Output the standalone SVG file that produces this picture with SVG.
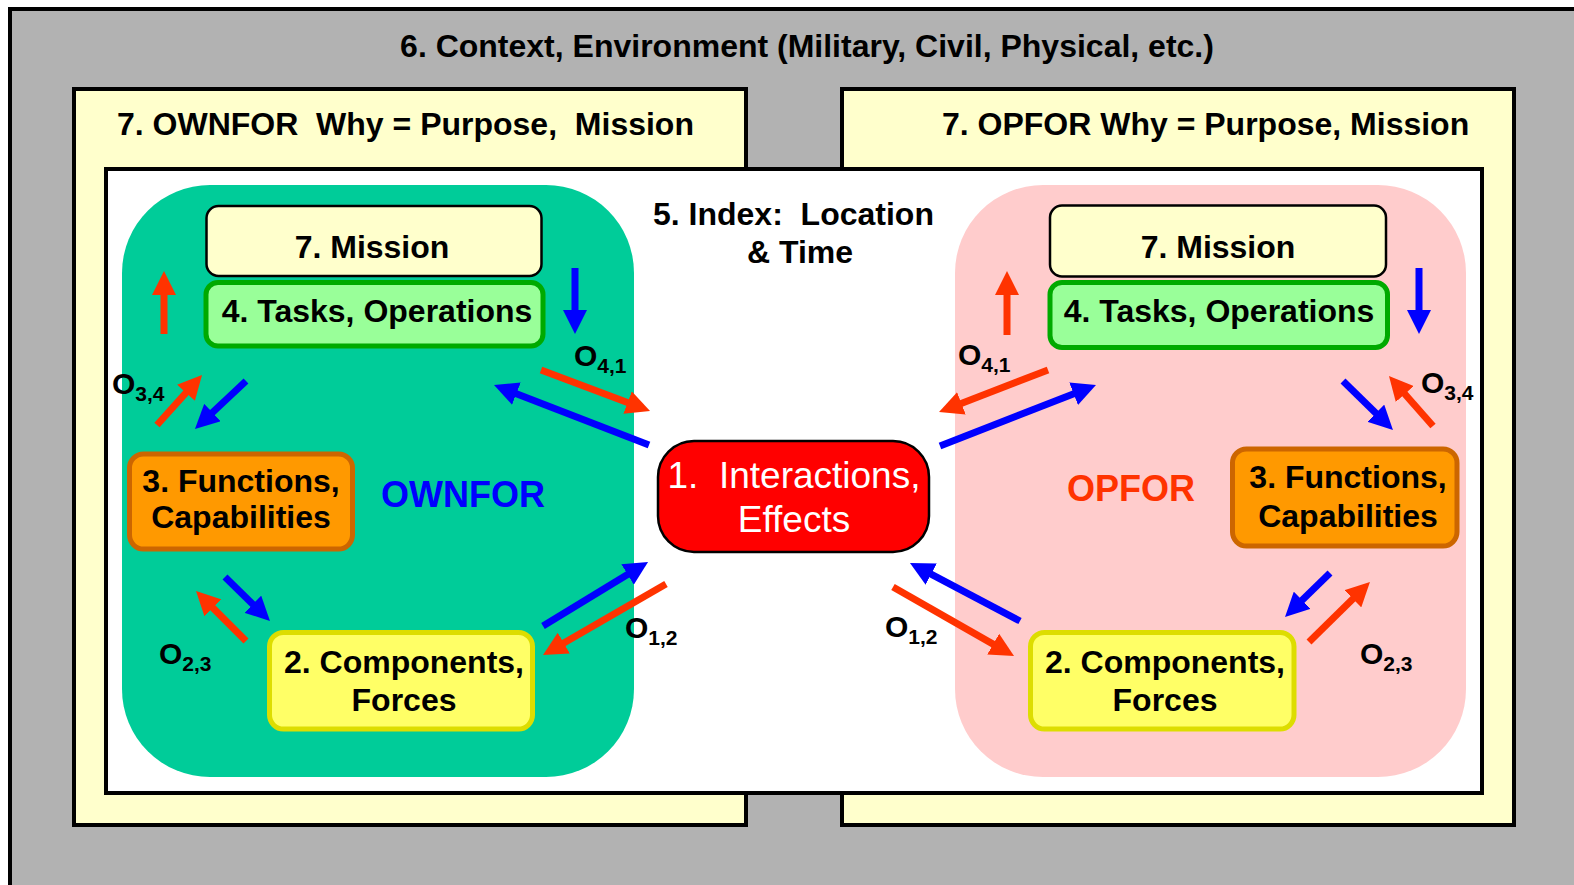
<svg xmlns="http://www.w3.org/2000/svg" width="1574" height="885" viewBox="0 0 1574 885">
<defs>
<style>
text{font-family:"Liberation Sans",Arial,sans-serif;font-weight:bold;fill:#000;white-space:pre}
.hdr{font-size:32px}
.box{font-size:32px;text-anchor:middle}
.lbl{font-size:30px}
.sub{font-size:21px}
.panel{fill:#FFFFCC;stroke:#000;stroke-width:4}
.red{stroke:#FF3300;stroke-width:7;fill:none;marker-end:url(#hr)}
.blue{stroke:#0000FF;stroke-width:7;fill:none;marker-end:url(#hb)}
</style>
<marker id="hr" markerUnits="userSpaceOnUse" markerWidth="24" markerHeight="24" viewBox="0 0 24 24" refX="12" refY="12" orient="auto"><path d="M0,0 L24,12 L0,24 z" fill="#FF3300"/></marker>
<marker id="hb" markerUnits="userSpaceOnUse" markerWidth="24" markerHeight="24" viewBox="0 0 24 24" refX="12" refY="12" orient="auto"><path d="M0,0 L24,12 L0,24 z" fill="#0000FF"/></marker>
</defs>
<rect width="1574" height="885" fill="#fff"/>
<g id="context">
<rect x="10" y="9" width="1600" height="900" fill="#B2B2B2" stroke="#000" stroke-width="4"/>
<text class="hdr" x="807" y="57" text-anchor="middle">6. Context, Environment (Military, Civil, Physical, etc.)</text>
</g>
<g id="ownfor-why">
<rect class="panel" x="74" y="89" width="672" height="736"/>
<text class="hdr" x="117" y="135">7. OWNFOR  Why = Purpose,  Mission</text>
</g>
<g id="opfor-why">
<rect class="panel" x="842" y="89" width="672" height="736"/>
<text class="hdr" x="942" y="135">7. OPFOR Why = Purpose, Mission</text>
</g>
<g id="index">
<rect x="106" y="169" width="1376" height="624" fill="#fff" stroke="#000" stroke-width="4"/>
<text class="hdr" x="653" y="225">5. Index:  Location</text>
<text class="hdr" x="747" y="263">&amp; Time</text>
</g>
<g id="ownfor-region">
<rect x="122" y="185" width="512" height="592" rx="88" fill="#00CC99"/>
<text x="463" y="507" text-anchor="middle" style="font-size:36px;fill:#0000FF">OWNFOR</text>
</g>
<g id="opfor-region">
<rect x="955" y="185" width="511" height="592" rx="88" fill="#FFCCCC"/>
<text x="1131" y="501" text-anchor="middle" style="font-size:36px;fill:#FF3300">OPFOR</text>
</g>
<g id="mission-own">
<rect x="206.5" y="206" width="335" height="70" rx="12" fill="#FFFFCC" stroke="#000" stroke-width="2.5"/>
<text class="box" x="372" y="258">7. Mission</text>
</g>
<g id="tasks-own">
<rect x="206" y="282.5" width="337" height="63.5" rx="12" fill="#99FF99" stroke="#00AA00" stroke-width="5"/>
<text class="box" x="377" y="321.5">4. Tasks, Operations</text>
</g>
<g id="functions-own">
<rect x="129.5" y="454" width="223" height="95" rx="14" fill="#FF9900" stroke="#CC6600" stroke-width="5"/>
<text class="box" x="241" y="491.5">3. Functions,</text>
<text class="box" x="241" y="528">Capabilities</text>
</g>
<g id="components-own">
<rect x="269.5" y="632.5" width="263" height="96.5" rx="14" fill="#FFFF66" stroke="#DDDD00" stroke-width="5"/>
<text class="box" x="404" y="673">2. Components,</text>
<text class="box" x="404" y="711">Forces</text>
</g>
<g id="interactions">
<rect x="658" y="441" width="271" height="111" rx="36" fill="#FF0000" stroke="#000" stroke-width="2.5"/>
<text x="794" y="488" text-anchor="middle" style="font-weight:normal;font-size:37px;fill:#fff">1.  Interactions,</text>
<text x="794" y="531.5" text-anchor="middle" style="font-weight:normal;font-size:37px;fill:#fff">Effects</text>
</g>
<g id="mission-opp">
<rect x="1050" y="205.5" width="336" height="71" rx="12" fill="#FFFFCC" stroke="#000" stroke-width="2.5"/>
<text class="box" x="1218" y="258">7. Mission</text>
</g>
<g id="tasks-opp">
<rect x="1050" y="282.5" width="337.5" height="65" rx="12" fill="#99FF99" stroke="#00AA00" stroke-width="5"/>
<text class="box" x="1219" y="321.5">4. Tasks, Operations</text>
</g>
<g id="functions-opp">
<rect x="1232.5" y="449" width="224.5" height="97" rx="14" fill="#FF9900" stroke="#CC6600" stroke-width="5"/>
<text class="box" x="1348" y="488">3. Functions,</text>
<text class="box" x="1348" y="526.5">Capabilities</text>
</g>
<g id="components-opp">
<rect x="1030.5" y="632.5" width="263.5" height="96.5" rx="14" fill="#FFFF66" stroke="#DDDD00" stroke-width="5"/>
<text class="box" x="1165" y="673">2. Components,</text>
<text class="box" x="1165" y="711">Forces</text>
</g>
<g id="connectors">
<line class="red" x1="164" y1="334" x2="164" y2="283"/>
<line class="blue" x1="575" y1="268" x2="575" y2="322"/>
<line class="red" x1="541" y1="370" x2="638.8" y2="406.8"/>
<line class="blue" x1="649" y1="445" x2="505.2" y2="389.3"/>
<line class="red" x1="157" y1="425" x2="194" y2="383.9"/>
<line class="blue" x1="246" y1="381" x2="203.7" y2="420.8"/>
<line class="blue" x1="225" y1="577" x2="261.4" y2="612.6"/>
<line class="red" x1="246" y1="641" x2="204.5" y2="599.5"/>
<line class="blue" x1="543" y1="626" x2="637.8" y2="568.2"/>
<line class="red" x1="666" y1="584" x2="553.4" y2="649"/>
<line class="red" x1="1007" y1="335" x2="1007" y2="283"/>
<line class="blue" x1="1419" y1="268" x2="1419" y2="322"/>
<line class="red" x1="1048" y1="370" x2="950.2" y2="407.7"/>
<line class="blue" x1="940" y1="446" x2="1084.8" y2="389.4"/>
<line class="blue" x1="1343" y1="381" x2="1384.4" y2="421.6"/>
<line class="red" x1="1433" y1="426" x2="1396.9" y2="385"/>
<line class="blue" x1="1330" y1="573" x2="1293.6" y2="608.6"/>
<line class="red" x1="1309" y1="642" x2="1361.4" y2="590.4"/>
<line class="blue" x1="1020" y1="621" x2="920.6" y2="568.6"/>
<line class="red" x1="893" y1="587" x2="1003.6" y2="650.1"/>
</g>
<g id="labels">
<text class="lbl" x="112" y="394">O<tspan class="sub" dy="7">3,4</tspan></text>
<text class="lbl" x="574" y="366">O<tspan class="sub" dy="7">4,1</tspan></text>
<text class="lbl" x="159" y="664">O<tspan class="sub" dy="7">2,3</tspan></text>
<text class="lbl" x="625" y="638">O<tspan class="sub" dy="7">1,2</tspan></text>
<text class="lbl" x="958" y="365">O<tspan class="sub" dy="7">4,1</tspan></text>
<text class="lbl" x="1421" y="393">O<tspan class="sub" dy="7">3,4</tspan></text>
<text class="lbl" x="885" y="637">O<tspan class="sub" dy="7">1,2</tspan></text>
<text class="lbl" x="1360" y="664">O<tspan class="sub" dy="7">2,3</tspan></text>
</g>
</svg>
